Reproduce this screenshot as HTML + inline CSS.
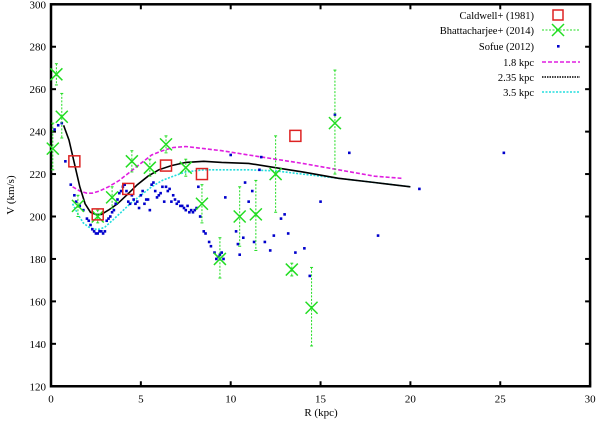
<!DOCTYPE html>
<html><head><meta charset="utf-8"><style>
body{margin:0;background:#fff}
svg{display:block;font-family:"Liberation Serif",serif}
</style></head><body>
<svg id="chart" width="600" height="422" viewBox="0 0 600 422" xmlns="http://www.w3.org/2000/svg"></svg>
<script>
const xTicks=[0,5,10,15,20,25,30];
const yTicks=[120,140,160,180,200,220,240,260,280,300];
const caldR=[1.3,2.6,4.3,6.4,8.4,13.6];
const caldV=[226,201,213,224,220,238];
const bhaR=[0.1,0.3,0.6,1.5,2.6,3.4,4.5,5.5,6.4,7.5,8.4,9.4,10.5,11.4,12.5,13.4,14.5,15.8];
const bhaV=[232,267,247,205,200,209,226,223,234,223,206,180,200,201,220,175,157,244];
const bhaLo=[222,262,237,200,197,204,221,219,230,219,197,171,186,184,202,172,139,220];
const bhaHi=[244,272,258,210,203,214,231,227,238,227,215,190,214,217,238,178,176,269];
const sofR=[0.2,0.4,0.6,0.8,1.1,1.3,1.4,1.6,1.8,2.0,
 2.1,2.2,2.3,2.4,2.5,2.6,2.7,2.8,2.9,3.0,
 3.1,3.2,3.3,3.4,3.5,3.6,3.7,3.8,3.9,4.0,
 4.1,4.2,4.3,4.4,4.5,4.6,4.7,4.8,4.9,5.0,
 5.1,5.2,5.3,5.4,5.5,5.6,5.7,5.8,5.9,6.0,
 6.1,6.2,6.3,6.4,6.5,6.6,6.7,6.8,6.9,7.0,
 7.1,7.2,7.3,7.4,7.5,7.6,7.7,7.8,7.9,8.0,
 8.1,8.2,8.3,8.5,8.6,8.8,8.9,9.1,9.2,9.3,
 9.4,9.5,9.6,9.7,10.0,10.3,10.4,10.5,10.7,11.0,
 11.2,11.3,11.6,11.7,11.9,12.2,12.4,12.8,13.0,13.2,
 13.6,14.1,14.4,15.0,15.8,16.6,18.2,20.5,25.2,10.8];
const sofV=[241,243,244,226,215,210,207,205,203,199,
 198,196,194,193,192,192,193,193,192,193,
 198,199,200,202,203,206,208,211,212,214,
 215,212,207,206,210,208,206,207,204,210,
 212,206,208,208,203,215,216,212,209,210,
 211,214,207,214,212,213,207,210,208,206,
 207,205,205,204,203,205,202,203,202,203,
 204,214,200,193,192,188,186,183,180,181,
 182,183,180,209,229,193,187,182,190,207,
 212,188,222,228,188,184,191,199,201,192,
 183,185,172,207,248,230,191,213,230,216];
const c18R=[1.2,1.6,2.0,2.3,2.7,3.2,3.8,4.4,5.0,5.6,6.2,6.8,7.5,8.5,9.5,11,12.5,14,16,18,19.5];
const c18V=[214,212,211,211,212,214,217,221,225,229,231,232.5,233,232,231,229,227,225,222,219,218];
const c235R=[0.7,1.0,1.3,1.6,1.9,2.2,2.5,2.8,3.2,3.7,4.2,4.8,5.4,6.0,6.7,7.5,8.5,9.5,11,12.5,14,16,18,20];
const c235V=[243,236,225,214,206,202,201,201,203,206,210,215,219,222,224,225.5,226,225.5,225,223,221,218,216,214];
const c35R=[1.2,1.5,1.8,2.1,2.4,2.7,3.0,3.4,3.9,4.4,5.0,5.6,6.2,6.8,7.5,8.5,9.5,11,12.5,14,16,18,20];
const c35V=[206,201,197,195,194,194,195,198,202,206,210,214,217,219,221,222,222,222,221.5,220,218,216,214];

const X0=51,XS=17.97,Y0=4.3,YS=2.122;
const sx=r=>X0+r*XS, sy=v=>Y0+(300-v)*YS;
const svg=document.getElementById('chart');
const NS='http://www.w3.org/2000/svg';
function mk(tag,attrs,parent){const e=document.createElementNS(NS,tag);for(const k in attrs)e.setAttribute(k,attrs[k]);(parent||svg).appendChild(e);return e;}

const box=mk('rect',{x:sx(0),y:sy(300),width:sx(30)-sx(0),height:sy(120)-sy(300),fill:'none',stroke:'#000','stroke-width':2.5});


xTicks.forEach(t=>{
  const x=sx(t);
  mk('line',{x1:x,y1:sy(120),x2:x,y2:sy(120)-5,stroke:'#000','stroke-width':2});
  mk('line',{x1:x,y1:sy(300),x2:x,y2:sy(300)+5,stroke:'#000','stroke-width':2});
  const tx=mk('text',{x:x,y:sy(120)+16,'text-anchor':'middle','font-size':11});
  tx.textContent=t;
  
  
});
yTicks.forEach(t=>{
  const y=sy(t);
  mk('line',{x1:sx(0),y1:y,x2:sx(0)+5,y2:y,stroke:'#000','stroke-width':2});
  mk('line',{x1:sx(30),y1:y,x2:sx(30)-5,y2:y,stroke:'#000','stroke-width':2});
  const tx=mk('text',{x:sx(0)-5,y:y+4,'text-anchor':'end','font-size':11});
  tx.textContent=t;
  
  
});
const xt=mk('text',{x:321,y:416,'text-anchor':'middle','font-size':11});
xt.textContent='R (kpc)';


const yt=mk('text',{x:14,y:195,'text-anchor':'middle','font-size':11,transform:'rotate(-90 14 195)'});
yt.textContent='V (km/s)';



function curve(R,V,color,dash,name){
  const p=R.map((r,i)=>sx(r).toFixed(1)+','+sy(V[i]).toFixed(1)).join(' ');
  const l=mk('polyline',{points:p,fill:'none',stroke:color,'stroke-width':1.6,'stroke-dasharray':dash});
  
  
}
curve(c18R,c18V,'#e01ee0','4,2','curve-1-8-kpc');
curve(c35R,c35V,'#22dddd','2,1.5','curve-3-5-kpc');
curve(c235R,c235V,'#000','none','curve-2-35-kpc');

sofR.forEach((r,i)=>{
  const c=mk('rect',{x:sx(r)-1.3,y:sy(sofV[i])-1.3,width:2.6,height:2.6,fill:'#0000cc'});
  
  
});
bhaR.forEach((r,i)=>{
  const g=mk('g',{stroke:'#22dd22','stroke-width':1.5,fill:'none'});
  
  
  const x=sx(r),y=sy(bhaV[i]),lo=sy(bhaLo[i]),hi=sy(bhaHi[i]);
  mk('line',{x1:x,y1:hi,x2:x,y2:lo,'stroke-dasharray':'2,1.5','stroke-width':1},g);
  mk('line',{x1:x-1.5,y1:hi,x2:x+1.5,y2:hi,'stroke-width':1},g);
  mk('line',{x1:x-1.5,y1:lo,x2:x+1.5,y2:lo,'stroke-width':1},g);
  mk('path',{d:`M${x-6},${y-6}L${x+6},${y+6}M${x-6},${y+6}L${x+6},${y-6}`},g);
});
caldR.forEach((r,i)=>{
  const s=mk('rect',{x:sx(r)-5.5,y:sy(caldV[i])-5.5,width:11,height:11,fill:'none',stroke:'#dd2222','stroke-width':1.5});
  
  
});

const leg=mk('g',{});


const labels=['Caldwell+ (1981)','Bhattacharjee+ (2014)','Sofue (2012)','1.8 kpc','2.35 kpc','3.5 kpc'];
const ly=[15,30,46,62,77,92];
labels.forEach((t,i)=>{
  const tx=mk('text',{x:534,y:ly[i]+4,'text-anchor':'end','font-size':10.5},leg);
  tx.textContent=t;
  
  
});
mk('rect',{x:553,y:10,width:10,height:10,fill:'none',stroke:'#dd2222','stroke-width':1.5},leg);
mk('line',{x1:542,y1:30,x2:580,y2:30,stroke:'#22dd22','stroke-dasharray':'2,1.5'},leg);
mk('path',{d:'M552,24L564,36M552,36L564,24',stroke:'#22dd22','stroke-width':1.5},leg);
mk('rect',{x:557,y:45,width:2.6,height:2.6,fill:'#0000cc'},leg);
mk('line',{x1:542,y1:62,x2:580,y2:62,stroke:'#e01ee0','stroke-width':1.5,'stroke-dasharray':'4,2'},leg);
mk('line',{x1:542,y1:77,x2:580,y2:77,stroke:'#000','stroke-width':1.5,'stroke-dasharray':'1.5,1'},leg);
mk('line',{x1:542,y1:92,x2:580,y2:92,stroke:'#22dddd','stroke-width':1.5,'stroke-dasharray':'2,1.5'},leg);
</script>
</body></html>
